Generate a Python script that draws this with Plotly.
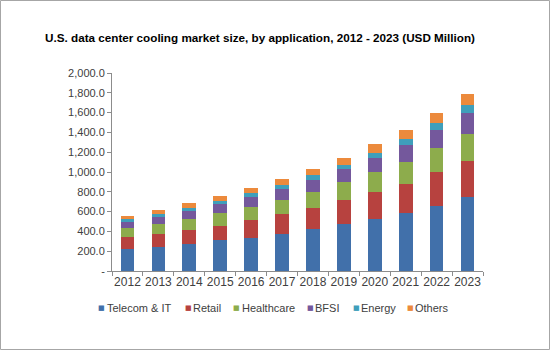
import plotly.graph_objects as go

years = ["2012", "2013", "2014", "2015", "2016", "2017", "2018", "2019", "2020", "2021", "2022", "2023"]
telecom_it = [225, 241, 276, 313, 338, 375, 425, 476, 527, 590, 656, 745]
retail = [114, 136, 134, 146, 176, 196, 213, 243, 266, 289, 341, 365]
healthcare = [98, 101, 112, 122, 135, 149, 162, 175, 202, 227, 243, 270]
bfsi = [61, 67, 88, 98, 101, 104, 124, 135, 149, 165, 186, 218]
energy = [24, 34, 30, 31, 34, 41, 44, 44, 51, 61, 68, 77]
others = [33, 37, 44, 44, 51, 64, 65, 71, 84, 91, 101, 111]

y_tick_values = [0, 200, 400, 600, 800, 1000, 1200, 1400, 1600, 1800, 2000]
y_tick_labels = ["-", "200.0", "400.0", "600.0", "800.0", "1,000.0", "1,200.0",
                 "1,400.0", "1,600.0", "1,800.0", "2,000.0"]

series_names = ["Telecom & IT", "Retail", "Healthcare", "BFSI", "Energy", "Others"]
series_values = [telecom_it, retail, healthcare, bfsi, energy, others]
series_colors = ["#4170AA", "#B7423F", "#8DAC4C", "#74589C", "#3F9FBB", "#EC8A3C"]

FONT = "Liberation Sans, Arial, sans-serif"

L, R, T, B = 112, 67, 73, 79
W, H = 550, 350
pw, ph = W - L - R, H - T - B

fig = go.Figure()
for name, vals, color in zip(series_names, series_values, series_colors):
    fig.add_trace(go.Bar(x=years, y=vals, name=name, showlegend=False,
                         marker=dict(color=color, line=dict(width=0))))

# Legend drawn as text annotations (marker square + label) to match compact layout
legend_marker_px = [101.7, 188.3, 236.7, 310.0, 356.0, 410.0]
legend_y_px = 307.5
annotations = []
for name, color, mx in zip(series_names, series_colors, legend_marker_px):
    annotations.append(dict(xref="paper", yref="paper",
                            x=(mx - L) / pw, y=(H - B - legend_y_px) / ph,
                            text="■", showarrow=False, xanchor="center", yanchor="middle",
                            font=dict(family="DejaVu Sans", size=7, color=color)))
    annotations.append(dict(xref="paper", yref="paper",
                            x=(mx + 3 - L) / pw, y=(H - B - legend_y_px) / ph,
                            text=name, showarrow=False, xanchor="left", yanchor="middle",
                            font=dict(family=FONT, size=11, color="#404040")))

fig.update_layout(
    width=W, height=H,
    barmode="stack", bargap=0.56,
    plot_bgcolor="white", paper_bgcolor="white",
    margin=dict(l=L, r=R, t=T, b=B, pad=0, autoexpand=False),
    font=dict(family=FONT, size=11, color="#404040"),
    showlegend=False,
    title=dict(text="<b>U.S. data center cooling market size, by application, 2012 - 2023 (USD Million)</b>",
               x=260 / W, xanchor="center", y=1 - 38 / H, yanchor="middle",
               font=dict(family=FONT, size=11.7, color="#000000")),
    xaxis=dict(showline=True, linecolor="#8C8C8C", linewidth=1, automargin=False,
               ticks="outside", ticklen=4, tickcolor="#8C8C8C", tickson="boundaries",
               tickangle=0, tickfont=dict(size=12, color="#404040"), showgrid=False),
    yaxis=dict(range=[0, 2000], tickvals=y_tick_values, ticktext=y_tick_labels, automargin=False,
               showline=True, linecolor="#8C8C8C", linewidth=1,
               ticks="outside", ticklen=4, tickcolor="#8C8C8C",
               tickfont=dict(size=11, color="#404040"), showgrid=False, zeroline=False),
    annotations=annotations,
    shapes=[dict(type="rect", xref="paper", yref="paper",
                 x0=(0.5 - L) / pw, x1=(W - 0.5 - L) / pw,
                 y0=(H - B - (H - 0.5)) / ph, y1=(H - B - 0.5) / ph,
                 line=dict(color="#A6A6A6", width=1), fillcolor="rgba(0,0,0,0)", layer="below")],
)

fig.write_html("out.html")
